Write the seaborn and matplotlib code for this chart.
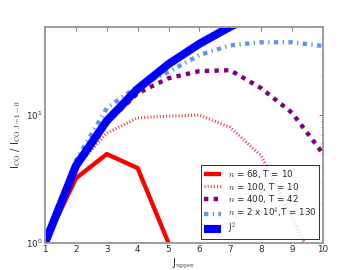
import matplotlib
matplotlib.use("Agg")
import matplotlib.pyplot as plt
import seaborn as sns
import numpy as np
import pandas as pd

J = [1, 2, 3, 4, 5, 6, 7, 8, 9, 10]
n68 = [1.0, 3.2, 4.95, 3.85, 1.0, 0.3, 0.1, 0.04, 0.02, 0.01]
n100 = [1.0, 3.9, 7.2, 9.5, 9.8, 10.0, 8.0, 4.8, 1.6, 0.5]
n400 = [1.0, 4.0, 8.7, 14.8, 19.4, 22.0, 22.4, 16.2, 10.4, 5.0]
n2e4 = [1.0, 4.4, 11.3, 16.8, 21.7, 29.4, 35.0, 37.0, 37.0, 34.6]
j2 = [j ** 2 for j in J]

labels = ["$n$ = 68, T = 10", "$n$ = 100, T = 10", "$n$ = 400, T = 42",
          "$n$ = 2 x 10$^4$,T = 130", "J$^2$"]

sns.set_style("white")
plt.rcParams['font.family'] = ['DejaVu Sans']
plt.rcParams['mathtext.fontset'] = 'cm'
plt.rcParams['lines.solid_capstyle'] = 'butt'
plt.rcParams['lines.dash_capstyle'] = 'butt'

fig, ax = plt.subplots(figsize=(4, 3), dpi=90)
fig.subplots_adjust(left=0.125, right=0.897, bottom=0.1, top=0.9)

sns.lineplot(x=J, y=n68, ax=ax, color="red", lw=3.5, label=labels[0])
sns.lineplot(x=J, y=n100, ax=ax, color="#d05050", lw=2.5, label=labels[1])
ax.lines[-1].set_linestyle((0, (0.35, 0.65)))
sns.lineplot(x=J, y=n400, ax=ax, color="purple", lw=3.5, label=labels[2])
ax.lines[-1].set_linestyle((0, (1, 1.2)))
sns.lineplot(x=J, y=n2e4, ax=ax, color="cornflowerblue", lw=3.5, label=labels[3])
ax.lines[-1].set_linestyle((0, (1.0, 1, 0.3, 1)))
sns.lineplot(x=J, y=j2, ax=ax, color="blue", lw=6.5, label=labels[4])
for ln in ax.lines:
    ln.set_solid_capstyle("butt")
    ln.set_dash_capstyle("butt")

ax.set_yscale("log")
ax.set_xlim(1, 10)
ax.set_ylim(1, 48.7)
ax.set_xticks(J)
ax.tick_params(axis="both", which="both", direction="in", top=True, right=True,
               labelsize=7, pad=2, length=3, width=0.6, color="#555555")
ax.tick_params(axis="y", which="minor", length=2)
for s in ax.spines.values():
    s.set_color("#999999")
    s.set_linewidth(1.5)

ax.set_xlabel("J$_{\\rm upper}$", fontsize=8, labelpad=2)
ax.set_ylabel("I$_{\\rm CO}$ / I$_{\\rm CO\\ J=1-0}$", fontsize=8, labelpad=2)

leg = ax.legend(loc="lower right", fontsize=7, frameon=True, fancybox=False,
                handlelength=2.0, borderaxespad=0.45, labelspacing=0.1,
                borderpad=0.3, handletextpad=0.7)
leg.get_frame().set_edgecolor("black")
leg.get_frame().set_linewidth(0.8)
for h in leg.get_lines():
    h.set_solid_capstyle("butt")
    h.set_dash_capstyle("butt")

fig.savefig("out.png", dpi=90)
